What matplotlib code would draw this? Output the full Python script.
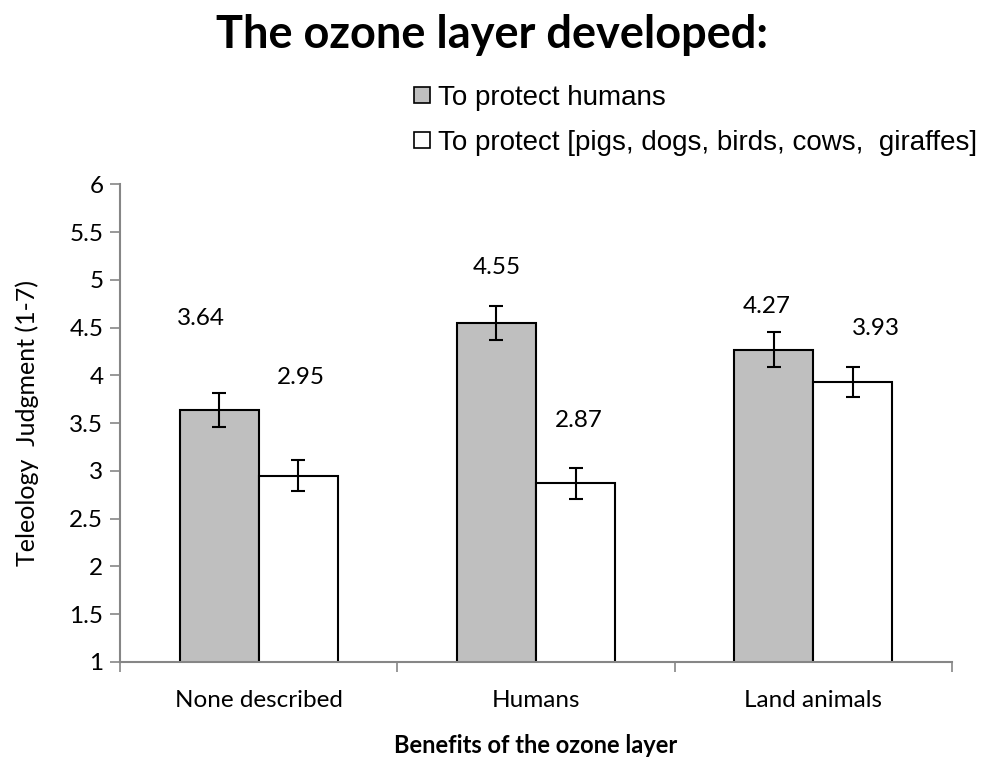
import matplotlib
matplotlib.use("Agg")
from matplotlib import pyplot as plt
from matplotlib.patches import Patch
import numpy as np

categories = ["None described", "Humans", "Land animals"]
series_names = ["To protect humans", "To protect [pigs, dogs, birds, cows,  giraffes]"]
humans_vals = [3.64, 4.55, 4.27]
animals_vals = [2.95, 2.87, 3.93]
humans_err = [0.18, 0.18, 0.18]
animals_err = [0.16, 0.16, 0.16]

# where the data labels sit (hand placed in the original)
humans_label_dx = [-0.065, 0.0, -0.027]
humans_label_y = [4.60, 5.13, 4.72]
animals_label_dx = [0.009, 0.011, 0.085]
animals_label_y = [3.98, 3.53, 4.49]

BODY = ["Lato", "DejaVu Sans"]
LEGEND_FONT = ["Liberation Sans", "DejaVu Sans"]
AXIS_GRAY = "#868686"

fig = plt.figure(figsize=(9.87, 7.61), dpi=100)
ax = fig.add_axes([0.1216, 0.1301, 0.8429, 0.6277])

x = np.arange(len(categories))
w = 0.285
err_kw = dict(ecolor="black", elinewidth=1.5, capsize=5, capthick=1.5)
ax.bar(x - w / 2, humans_vals, w, color="#bfbfbf", edgecolor="black",
       linewidth=1.5, yerr=humans_err, error_kw=err_kw, zorder=2)
ax.bar(x + w / 2, animals_vals, w, color="white", edgecolor="black",
       linewidth=1.5, yerr=animals_err, error_kw=err_kw, zorder=2)

for i in range(len(categories)):
    ax.text(x[i] - w / 2 + humans_label_dx[i], humans_label_y[i], f"{humans_vals[i]:.2f}",
            ha="center", va="center", fontsize=17.5, family=BODY)
    ax.text(x[i] + w / 2 + animals_label_dx[i], animals_label_y[i], f"{animals_vals[i]:.2f}",
            ha="center", va="center", fontsize=17.5, family=BODY)

ax.set_ylim(1, 6)
ax.set_xlim(-0.5, len(categories) - 0.5)
yt = np.arange(1, 6.01, 0.5)
ax.set_yticks(yt)
ax.set_yticklabels([f"{v:g}" for v in yt], family=BODY, fontsize=17.5)
ax.set_xticks(np.arange(-0.5, len(categories), 1.0))
ax.set_xticklabels([])
ax.set_xticks(x, minor=True)
ax.set_xticklabels(categories, minor=True, family=BODY, fontsize=17.5)
ax.tick_params(axis="x", which="minor", length=0, pad=20)
ax.tick_params(axis="both", which="major", color=AXIS_GRAY, length=7, width=1.2)
ax.tick_params(axis="y", pad=5)

for side in ["top", "right"]:
    ax.spines[side].set_visible(False)
for side in ["left", "bottom"]:
    ax.spines[side].set_color(AXIS_GRAY)
    ax.spines[side].set_linewidth(1.5)

ax.set_ylabel("Teleology  Judgment (1-7)", family=BODY, fontsize=18, labelpad=22)
ax.set_xlabel("Benefits of the ozone layer", family=BODY, fontsize=17,
              fontweight="bold", labelpad=17)

fig.suptitle("The ozone layer developed:", family=BODY, fontsize=32.5,
             fontweight="bold", x=0.498, y=0.982)

handles = [Patch(facecolor="#bfbfbf", edgecolor="black", linewidth=1.2),
           Patch(facecolor="white", edgecolor="black", linewidth=1.2)]
fig.legend(handles, series_names, loc="upper left", bbox_to_anchor=(0.400, 0.914),
           frameon=False, prop={"family": LEGEND_FONT, "size": 20},
           handlelength=0.55, handleheight=0.55, handletextpad=0.3,
           labelspacing=0.68, borderpad=0.2)

fig.savefig("out.png", dpi=100)
